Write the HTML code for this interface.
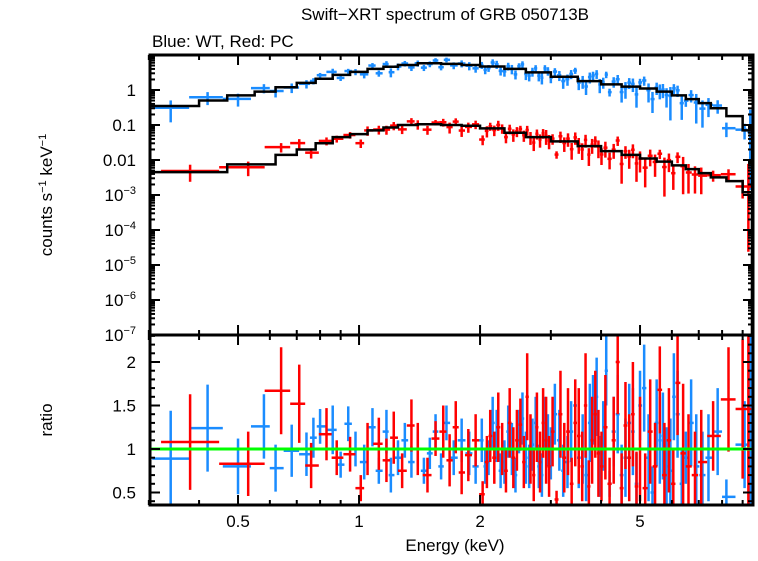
<!DOCTYPE html>
<html><head><meta charset="utf-8"><style>
html,body{margin:0;padding:0;background:#fff;}
svg text{font-family:"Liberation Sans",sans-serif;fill:#000;}
</style></head><body>
<svg id="chart" width="758" height="556" viewBox="0 0 758 556" xmlns="http://www.w3.org/2000/svg">
<defs>
<clipPath id="cTop"><rect x="150" y="55" width="603" height="280"/></clipPath>
<clipPath id="cBot"><rect x="150" y="335" width="603" height="170"/></clipPath>
</defs>
<text x="445" y="20" font-size="17" text-anchor="middle">Swift−XRT spectrum of GRB 050713B</text>
<text x="152" y="47" font-size="17">Blue: WT, Red: PC</text>
<text transform="translate(52,195) rotate(-90)" font-size="17" text-anchor="middle">counts s<tspan font-size="11" dy="-6">−1</tspan><tspan dy="6"> keV</tspan><tspan font-size="11" dy="-6">−1</tspan></text>
<text transform="translate(52,420) rotate(-90)" font-size="17" text-anchor="middle">ratio</text>
<text x="455" y="551" font-size="17" text-anchor="middle">Energy (keV)</text>
<g id="gTop"></g>
<g id="gBot"></g>
<g id="gAxes"></g>
</svg>
<script>
const modelEdges=[0.3,0.4,0.47,0.55,0.62,0.7,0.78,0.86,0.95,1.05,1.15,1.25,1.4,1.6,1.8,2.0,2.3,2.6,3.0,3.5,4.0,4.5,5.0,5.5,6.0,6.5,7.0,7.5,8.2,9.0,9.5];
const blueModel=[0.35,0.5,0.7,0.9,1.2,1.6,2.1,2.7,3.3,4.0,4.6,5.2,5.8,5.6,5.2,4.7,4.0,3.2,2.4,1.8,1.45,1.25,1.1,0.9,0.7,0.55,0.42,0.3,0.18,0.07];
const redModel=[0.0045,0.0045,0.0075,0.0075,0.014,0.02,0.03,0.045,0.055,0.07,0.085,0.1,0.105,0.1,0.095,0.08,0.06,0.045,0.034,0.025,0.018,0.014,0.011,0.009,0.007,0.0055,0.0042,0.0032,0.0025,0.0012];
const blueE=[0.34,0.42,0.5,0.58,0.62,0.68,0.74,0.77,0.8,0.86,0.9,0.94,0.98,1.03,1.08,1.12,1.17,1.2,1.25,1.3,1.35,1.4,1.45,1.5,1.55,1.6,1.65,1.72,1.8,1.88,1.95,
2.02,2.06,2.1,2.15,2.2,2.25,2.3,2.35,2.4,2.45,2.5,2.55,2.6,2.65,2.7,2.75,2.8,2.85,2.9,2.95,3.0,3.07,3.15,3.22,3.3,3.37,3.45,3.52,3.6,3.67,3.75,3.82,3.9,3.97,4.05,4.12,4.2,4.3,4.4,4.5,4.6,4.7,4.8,4.9,5.0,5.12,5.25,5.37,5.5,5.6,5.7,5.82,5.95,6.07,6.2,6.35,6.5,6.7,6.9,7.15,7.4,7.8,8.2,9.1,9.4];
const blueRatio=[0.89,1.24,0.8,1.26,0.78,0.98,0.94,1.13,1.26,1.22,0.82,1.29,1.0,0.85,1.25,0.75,1.2,0.7,0.9,1.1,0.85,1.0,0.75,0.95,1.2,0.8,1.3,0.9,1.1,0.95,0.8,
1.1,0.8,0.9,1.3,1.15,0.75,0.85,1.2,1.0,0.7,1.2,1.35,0.9,0.8,1.05,1.3,0.8,0.7,1.3,1.1,0.95,1.4,1.1,0.75,0.85,1.2,1.5,0.9,1.0,0.7,1.3,1.45,1.6,0.8,1.15,1.9,0.6,1.2,1.4,0.7,0.9,1.3,1.2,0.6,1.5,1.7,0.9,0.5,1.3,1.1,1.15,0.8,0.75,1.6,1.4,0.6,0.9,1.3,0.8,0.7,0.9,1.2,0.45,1.05,0.9];
const blueErr=[0.55,0.5,0.32,0.37,0.27,0.3,0.25,0.23,0.2,0.28,0.15,0.2,0.2,0.2,0.22,0.15,0.25,0.2,0.2,0.2,0.18,0.2,0.15,0.18,0.2,0.15,0.2,0.2,0.25,0.25,0.2,
0.25,0.2,0.2,0.3,0.3,0.2,0.25,0.3,0.3,0.2,0.25,0.3,0.3,0.25,0.3,0.3,0.25,0.25,0.3,0.3,0.3,0.35,0.35,0.3,0.3,0.35,0.3,0.35,0.4,0.3,0.45,0.4,0.45,0.35,0.4,0.4,0.15,0.4,0.45,0.35,0.45,0.45,0.5,0.35,0.4,0.5,0.5,0.3,0.5,0.5,0.5,0.45,0.6,0.5,0.5,0.4,0.3,0.5,0.6,0.5,0.5,0.5,0.2,0.5,3];
const redE=[0.38,0.53,0.64,0.71,0.76,0.83,0.88,0.95,1.01,1.05,1.12,1.17,1.22,1.28,1.35,1.4,1.48,1.55,1.62,1.68,1.74,1.8,1.87,1.95,
2.03,2.08,2.12,2.17,2.22,2.27,2.32,2.37,2.42,2.47,2.52,2.57,2.62,2.67,2.72,2.77,2.82,2.87,2.92,2.97,3.03,3.1,3.17,3.24,3.31,3.38,3.45,3.52,3.59,3.66,3.73,3.8,3.87,3.94,4.01,4.1,4.2,4.3,4.4,4.5,4.6,4.7,4.8,4.9,5.0,5.15,5.3,5.45,5.6,5.75,5.9,6.05,6.2,6.4,6.6,6.85,7.1,7.6,8.3,9.0,9.3];
const redRatio=[1.08,0.83,1.67,1.52,0.81,1.17,0.9,0.94,0.55,1.0,1.06,0.87,1.13,0.75,1.27,1.0,0.7,1.12,1.2,0.87,1.25,0.73,0.93,1.1,
0.48,0.85,1.15,0.9,1.25,1.0,0.75,1.3,0.9,1.1,1.28,0.85,1.6,1.0,0.7,1.25,0.85,1.3,1.1,0.8,1.2,0.42,1.4,0.9,1.2,0.6,1.3,1.15,0.8,1.5,0.57,1.1,1.4,0.95,0.8,1.25,0.6,1.1,2.0,0.55,1.27,0.9,1.4,0.57,1.0,0.55,1.2,0.8,1.68,0.7,1.1,0.6,1.76,0.95,0.8,0.7,0.85,1.15,1.57,1.46,1.46];
const redErr=[0.55,0.37,0.5,0.45,0.26,0.3,0.2,0.2,0.15,0.3,0.3,0.25,0.3,0.2,0.3,0.3,0.2,0.2,0.3,0.3,0.3,0.25,0.3,0.3,
0.15,0.3,0.3,0.3,0.4,0.3,0.25,0.4,0.35,0.35,0.3,0.3,0.5,0.4,0.3,0.4,0.35,0.4,0.5,0.35,0.4,0.1,0.5,0.4,0.5,0.3,0.5,0.55,0.4,0.6,0.3,0.5,0.5,0.5,0.4,0.6,0.3,0.5,0.6,0.4,0.5,0.5,0.6,0.4,0.6,0.4,0.6,0.5,0.5,0.6,0.6,0.4,0.6,0.8,0.6,0.5,0.6,0.4,0.6,0.8,5];
const xTickLabels=["0.5","1","2","5"];
const ratioTickLabels=["0.5","1","1.5","2"];

const NS="http://www.w3.org/2000/svg";
const X0=150,X1=753,TOP0=55,TOP1=335,BOT0=335,BOT1=505;
const LMIN=Math.log10(0.302),LMAX=Math.log10(9.55);
function xs(e){return X0+(Math.log10(e)-LMIN)/(LMAX-LMIN)*(X1-X0);}
function yt(v){return 90-35*Math.log10(v);}
function yb(r){return 449-87*(r-1);}
function mk(tag,attrs,parent){const el=document.createElementNS(NS,tag);for(const k in attrs)el.setAttribute(k,attrs[k]);parent.appendChild(el);return el;}
function modelAt(arr,e){for(let i=0;i<arr.length;i++){if(e>=modelEdges[i]&&e<modelEdges[i+1])return arr[i];}return arr[arr.length-1];}
const gTop=document.getElementById('gTop'),gBot=document.getElementById('gBot'),gAx=document.getElementById('gAxes');
gTop.setAttribute('clip-path','url(#cTop)');gBot.setAttribute('clip-path','url(#cBot)');

function drawPoints(E,R,Er,model,color,name){
  for(let i=0;i<E.length;i++){
    const lo=i>0?Math.sqrt(E[i-1]*E[i]):Math.max(0.302,E[i]*E[i]/Math.sqrt(E[i]*E[i+1]));
    const hi=i<E.length-1?Math.sqrt(E[i]*E[i+1]):Math.min(9.55,E[i]*E[i]/lo);
    const x=xs(E[i]),xa=xs(lo),xb=xs(hi);
    const m=modelAt(model,E[i]);
    const d=m*R[i];
    const rl=Math.max(0.02,R[i]-Er[i]),rh=R[i]+Er[i];
    const g=mk('g',{},gTop);
    
    
    mk('line',{x1:xa,x2:xb,y1:yt(d),y2:yt(d),stroke:color,'stroke-width':2.5},g);
    mk('line',{x1:x,x2:x,y1:yt(m*rl),y2:yt(m*rh),stroke:color,'stroke-width':2.5},g);
    const g2=mk('g',{},gBot);
    
    
    mk('line',{x1:xa,x2:xb,y1:yb(R[i]),y2:yb(R[i]),stroke:color,'stroke-width':2.5},g2);
    mk('line',{x1:x,x2:x,y1:yb(rl),y2:yb(rh),stroke:color,'stroke-width':2.5},g2);
  }
}
function drawModel(model,name){
  let d='';
  for(let i=0;i<model.length;i++){
    const y=yt(model[i]);
    d+=(i===0?'M':'L')+xs(modelEdges[i])+','+y+'L'+xs(modelEdges[i+1])+','+y;
  }
  d+='L'+xs(modelEdges[modelEdges.length-1])+','+TOP1;
  const p=mk('path',{d:d,fill:'none',stroke:'#000','stroke-width':2.5},gTop);
  
  
}
drawPoints(blueE,blueRatio,blueErr,blueModel,'#1a8cff','wt');
drawPoints(redE,redRatio,redErr,redModel,'#ff0000','pc');
drawModel(blueModel,'wt');
drawModel(redModel,'pc');
const unity=mk('line',{x1:X0,x2:X1,y1:yb(1),y2:yb(1),stroke:'#00ff00','stroke-width':3},gBot);



[[TOP0,TOP1],[BOT0,BOT1]].forEach(([a,b],k)=>{
  const r=mk('rect',{x:X0,y:a,width:X1-X0,height:b-a,fill:'none',stroke:'#000','stroke-width':3},gAx);
  
  
});
const minorE=[0.3,0.4,0.6,0.7,0.8,0.9,3,4,6,7,8,9];
const majorE=[0.5,1,2,5];
function xtick(e,len){[[TOP0,1],[TOP1,-1],[BOT0,1],[BOT1,-1]].forEach(([y,s])=>{mk('line',{x1:xs(e),x2:xs(e),y1:y,y2:y+s*len,stroke:'#000','stroke-width':2},gAx);});}
minorE.forEach(e=>xtick(e,5));majorE.forEach(e=>xtick(e,10));
xTickLabels.forEach(l=>{const t=mk('text',{x:xs(parseFloat(l)),y:527,'font-size':17,'text-anchor':'middle'},gAx);t.textContent=l;
});
for(let p=-7;p<=0;p++){
  for(let k=1;k<10;k++){
    const v=k*Math.pow(10,p);const y=yt(v);if(y<TOP0)continue;
    const len=k===1?10:5;
    mk('line',{x1:X0,x2:X0+len,y1:y,y2:y,stroke:'#000','stroke-width':2},gAx);
    mk('line',{x1:X1,x2:X1-len,y1:y,y2:y,stroke:'#000','stroke-width':2},gAx);
  }
}
const ylabs=[[0,'1'],[-1,'0.1'],[-2,'0.01']];
ylabs.forEach(([p,l])=>{const t=mk('text',{x:136,y:yt(Math.pow(10,p))+6,'font-size':17,'text-anchor':'end'},gAx);t.textContent=l;
});
for(let p=-3;p>=-7;p--){
  const t=mk('text',{x:136,y:yt(Math.pow(10,p))+6,'font-size':17,'text-anchor':'end'},gAx);
  
  const a=mk('tspan',{},t);a.textContent='10';
  const b=mk('tspan',{'font-size':11,dy:-7},t);b.textContent='−'+(-p);
}
for(let r=0.4;r<=2.31;r+=0.1){
  const y=yb(r);const major=Math.abs(r*2-Math.round(r*2))<0.01;const len=major?10:5;
  mk('line',{x1:X0,x2:X0+len,y1:y,y2:y,stroke:'#000','stroke-width':2},gAx);
  mk('line',{x1:X1,x2:X1-len,y1:y,y2:y,stroke:'#000','stroke-width':2},gAx);
}
ratioTickLabels.forEach(l=>{const t=mk('text',{x:136,y:yb(parseFloat(l))+6,'font-size':17,'text-anchor':'end'},gAx);t.textContent=l;
});
</script>
</body></html>
